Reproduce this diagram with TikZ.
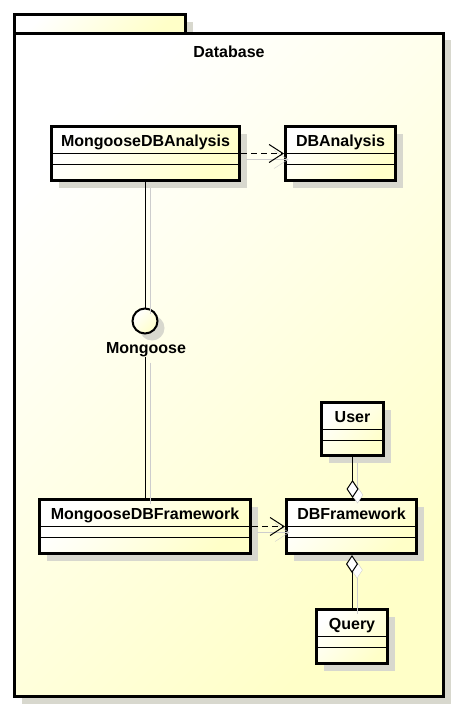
\documentclass[tikz,border=0pt]{standalone}
\usepackage{fontspec}
\setmainfont{Liberation Sans}
\usetikzlibrary{arrows.meta,calc,shadows}
\definecolor{umlyel}{RGB}{255,255,200}
\definecolor{umlshadow}{RGB}{216,216,206}
\definecolor{lineshadow}{RGB}{205,205,205}
\newcommand{\umlclass}[5]{%
  \node[cls, minimum width=#3, minimum height=#4] (#1) at (#2) {};
  \node[clsname, anchor=base] (#1-t) at ($(#1.north)+(0,21.5)$) {#5};
  \draw[comp] ($(#1.north west)+(0,28.5)$) -- ($(#1.north east)+(0,28.5)$);
  \draw[comp] ($(#1.north west)+(0,39.5)$) -- ($(#1.north east)+(0,39.5)$);
}
\begin{document}
\begin{tikzpicture}[x=1pt,y=-1pt,
  umlfill/.style={top color=white, bottom color=umlyel, shading angle=45},
  shad/.style={drop shadow={shadow xshift=7pt, shadow yshift=-7pt, fill=umlshadow, opacity=1}},
  cls/.style={draw, line width=3pt, rectangle, inner sep=0pt, umlfill, shad},
  pkg/.style={draw, line width=3pt, umlfill, shad},
  clsname/.style={font=\fontsize{16}{19}\selectfont\bfseries, inner sep=0pt},
  comp/.style={line width=1pt},
  lshad/.style={preaction={draw=lineshadow, transform canvas={xshift=5pt, yshift=-6pt}}},
  conn/.style={line width=1pt, lshad},
  dep/.style={line width=1pt, dash pattern=on 6pt off 4pt, lshad, -{Straight Barb[length=14pt,width=18pt]}},
  agg/.style={line width=1pt, lshad, -{Diamond[length=18pt,width=12pt,fill=white]}}
]
\useasboundingbox (0,0) rectangle (458,712);
% package
\path[pkg] (14.5,14.5) rectangle (185.5,33);
\path[pkg] (14.5,33) rectangle (443.5,696.5);
\node[clsname, anchor=base] (pkgname) at (229,57) {Database};
% classes
\umlclass{mda}{145.5,153.5}{188}{54}{MongooseDBAnalysis}
\umlclass{dba}{340.5,153.5}{110}{54}{DBAnalysis}
\umlclass{mdf}{145,526.5}{211}{54}{MongooseDBFramework}
\umlclass{dbf}{351.5,526.5}{130}{54}{DBFramework}
\umlclass{user}{352.5,429}{62}{53}{User}
\umlclass{query}{352,636.5}{71}{54}{Query}
% interface
\node[circle, draw, line width=2pt, minimum size=25pt, inner sep=0pt, umlfill, shad] (mong) at (145,321) {};
\node[clsname, anchor=base] (mongl) at (146,353) {Mongoose};
% connectors
\draw[conn] (mong.north) -- (mong.north |- mda.south);
\draw[conn] (mong |- mongl.south) -- (mong |- mdf.north);
\draw[dep] (mda.east) -- (dba.west);
\draw[dep] (mdf.east) -- (dbf.west);
\draw[agg] (user.south) -- (user.south |- dbf.north);
\draw[agg] (query.north) -- (query.north |- dbf.south);
\end{tikzpicture}
\end{document}
